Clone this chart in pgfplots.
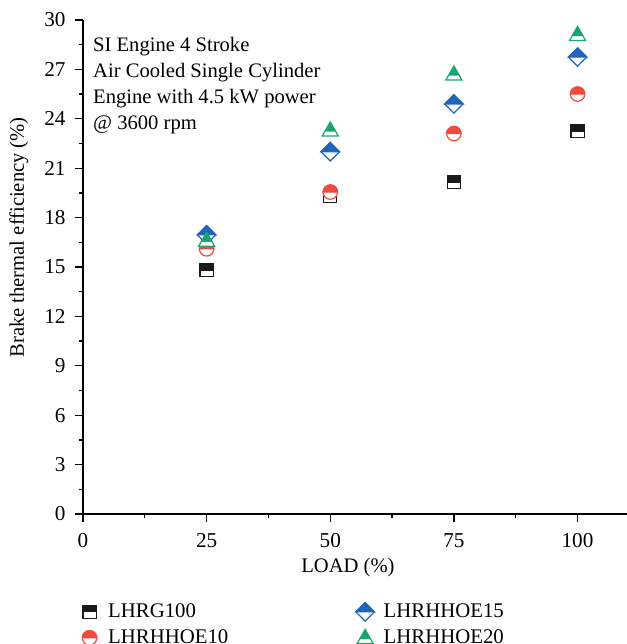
\documentclass[border=0pt]{standalone}
\usepackage{fontspec}
\setmainfont{Liberation Serif}
\usepackage{pgfplots}
\pgfplotsset{compat=1.18}
\definecolor{cK}{HTML}{1A1A1A}
\definecolor{cR}{HTML}{EE4B3E}
\definecolor{cB}{HTML}{1F66B8}
\definecolor{cG}{HTML}{17A66C}
\pgfdeclareplotmark{hsq}{%
  \pgfsetfillcolor{white}%
  \pgfpathrectangle{\pgfpoint{-3.3pt}{-3.3pt}}{\pgfpoint{6.6pt}{6.6pt}}\pgfusepath{fill,stroke}%
  \pgfsetfillcolor{cK}%
  \pgfpathrectangle{\pgfpoint{-3.3pt}{0pt}}{\pgfpoint{6.6pt}{3.3pt}}\pgfusepath{fill,stroke}%
}
\pgfdeclareplotmark{hci}{%
  \pgfsetfillcolor{white}%
  \pgfpathcircle{\pgfpointorigin}{3.6pt}\pgfusepath{fill,stroke}%
  \pgfsetfillcolor{cR}%
  \pgfpathmoveto{\pgfpoint{3.6pt}{0pt}}\pgfpatharc{0}{180}{3.6pt}\pgfpathclose\pgfusepath{fill,stroke}%
}
\pgfdeclareplotmark{hdi}{%
  \pgfsetfillcolor{white}%
  \pgfpathmoveto{\pgfpoint{-4.6pt}{0pt}}\pgfpathlineto{\pgfpoint{0pt}{4.6pt}}\pgfpathlineto{\pgfpoint{4.6pt}{0pt}}\pgfpathlineto{\pgfpoint{0pt}{-4.6pt}}\pgfpathclose\pgfusepath{fill,stroke}%
  \pgfsetfillcolor{cB}%
  \pgfpathmoveto{\pgfpoint{-4.6pt}{0pt}}\pgfpathlineto{\pgfpoint{0pt}{4.6pt}}\pgfpathlineto{\pgfpoint{4.6pt}{0pt}}\pgfpathclose\pgfusepath{fill,stroke}%
}
\pgfdeclareplotmark{htr}{%
  \pgfsetfillcolor{white}%
  \pgfpathmoveto{\pgfpoint{0pt}{4.2pt}}\pgfpathlineto{\pgfpoint{-4pt}{-2.8pt}}\pgfpathlineto{\pgfpoint{4pt}{-2.8pt}}\pgfpathclose\pgfusepath{fill,stroke}%
  \pgfsetfillcolor{cG}%
  \pgfpathmoveto{\pgfpoint{0pt}{4.2pt}}\pgfpathlineto{\pgfpoint{-2.74pt}{-0.6pt}}\pgfpathlineto{\pgfpoint{2.74pt}{-0.6pt}}\pgfpathclose\pgfusepath{fill}%
}
\pgfplotsset{mylegend/.style={legend image code/.code={\draw[only marks,##1] plot coordinates {(4pt,0pt)}; \path (11pt,0pt);}}}
\begin{document}
\fontsize{10.5}{13}\selectfont%
\begin{tikzpicture}
\begin{axis}[
  at={(0,0)}, anchor=south west,
  scale only axis, width=272pt, height=247pt,
  xmin=0, xmax=110, ymin=0, ymax=30,
  axis x line*=bottom, axis y line*=left,
  axis line style={-, line width=0.65pt, black},
  xtick={0,25,50,75,100}, ytick={0,3,...,30},
  minor xtick={12.5,37.5,62.5,87.5},
  minor ytick={1.5,4.5,...,28.5},
  tick align=outside,
  major tick length=4pt, minor tick length=2pt,
  every tick/.style={black, line width=0.65pt},
  /pgf/number format/assume math mode=true,
  ticklabel style={font=\fontsize{10.6}{12}\selectfont},
  xticklabel style={yshift=-2pt},
  yticklabel style={xshift=-1pt},
  xlabel={LOAD (\%)},
  ylabel={Brake thermal efficiency (\%)},
  label style={font=\fontsize{10.3}{12}\selectfont},
  xlabel style={at={(axis description cs:0.487,-0.109)}, anchor=center},
  ylabel style={at={(axis description cs:-0.118,0.56)}, anchor=center, rotate=0},
  every axis plot/.append style={only marks, mylegend, line width=0.6pt},
  legend columns=2, transpose legend,
  legend style={at={(axis description cs:-0.003,-0.172)}, anchor=north west, draw=none, fill=none,
    inner sep=0pt, row sep=0.5pt, font=\fontsize{10.4}{11}\selectfont,
    /tikz/every even column/.append style={column sep=61.5pt}},
  legend cell align=left,
  clip=false,
]
\addplot[mark=hsq, draw=cK] coordinates {(25,14.8) (50,19.3) (75,20.15) (100,23.25)};
\addlegendentry{LHRG100}
\addplot[mark=hci, draw=cR] coordinates {(25,16.1) (50,19.55) (75,23.1) (100,25.5)};
\addlegendentry{LHRHHOE10}
\addplot[mark=hdi, draw=cB] coordinates {(25,16.95) (50,22.0) (75,24.9) (100,27.75)};
\addlegendentry{LHRHHOE15}
\addplot[mark=htr, draw=cG] coordinates {(25,16.6) (50,23.3) (75,26.7) (100,29.1)};
\addlegendentry{LHRHHOE20}
\node[anchor=north west, align=left, inner sep=0pt, font=\fontsize{10.3}{13}\selectfont]
  at (axis description cs:0.018,0.966) {SI Engine 4 Stroke\\Air Cooled Single Cylinder\\Engine with 4.5 kW power\\@ 3600 rpm};
\end{axis}
\pgfresetboundingbox
\useasboundingbox (-41.5pt,-65pt) rectangle (272pt,257pt);
\end{tikzpicture}
\end{document}
